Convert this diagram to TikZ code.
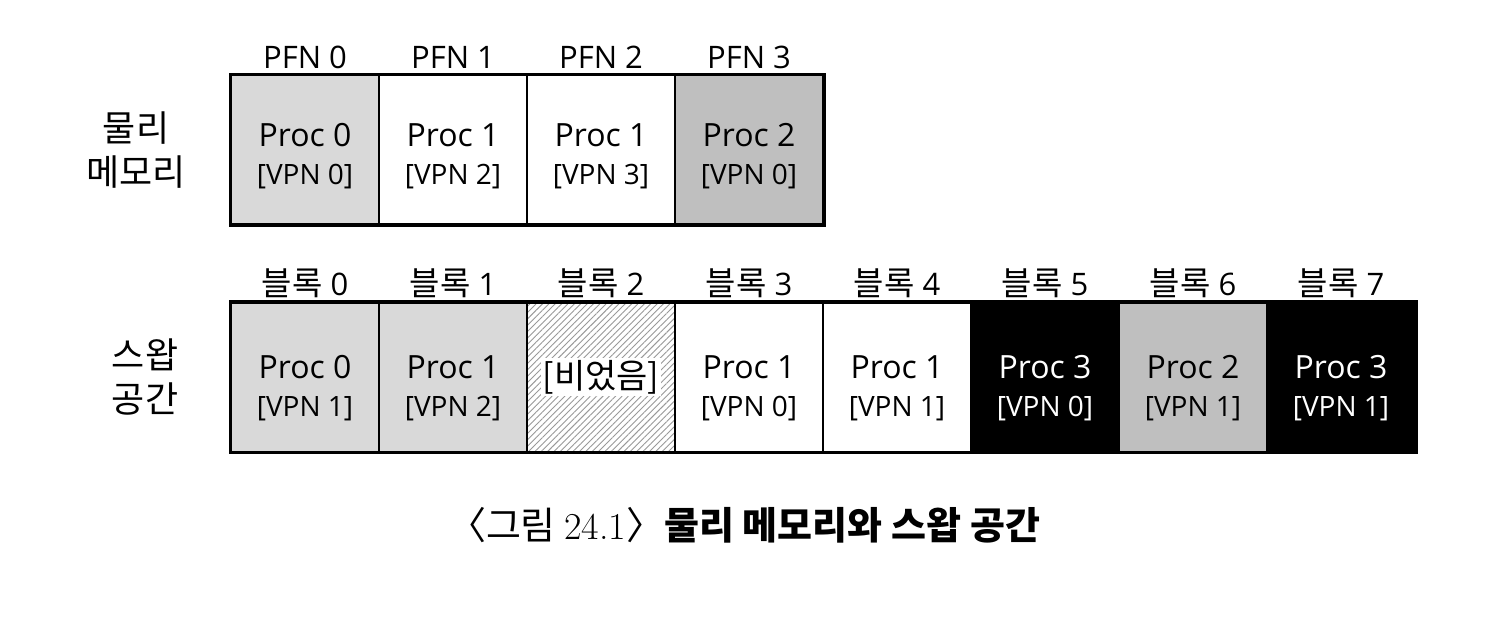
\documentclass[tikz,border=0pt]{standalone}
\usepackage{fontspec}
\setmainfont{Open Sans}
\newfontfamily\cjk{Noto Sans CJK KR}
\newfontfamily\lmr{Latin Modern Roman}
\usetikzlibrary{patterns.meta}
\definecolor{lgray}{HTML}{D9D9D9}
\definecolor{mgray}{HTML}{BFBFBF}
\begin{document}
\begin{tikzpicture}[x=1pt,y=-1pt,
  cell/.style={draw=black, line width=2pt, minimum width=148pt, minimum height=149pt, inner sep=0pt, anchor=center},
  proctxt/.style={font=\fontsize{32}{36}\selectfont, anchor=base, inner sep=0pt},
  vpntxt/.style={font=\fontsize{28}{32}\selectfont, anchor=base, inner sep=0pt},
  toplbl/.style={font=\fontsize{31}{36}\selectfont, anchor=base, inner sep=0pt},
  sidelbl/.style={font=\cjk\fontsize{36}{44}\selectfont, align=center, anchor=center},
  hatch/.style={pattern={Lines[angle=45,distance=4.5pt,line width=0.9pt]}, pattern color=black!40}]
\useasboundingbox (0,0) rectangle (1512,630);
% physical memory
\foreach \i/\f/\p/\v in {0/lgray/0/0,1/white/1/2,2/white/1/3,3/mgray/2/0}{
  \node[cell, fill=\f] (m\i) at ({305+148*\i},149.5) {};
  \node[proctxt] (mp\i) at ({305+148*\i},146) {Proc \p};
  \node[vpntxt] (mv\i) at ({305+148*\i},184) {[VPN \v]};
  \node[toplbl] (pl\i) at ({305+148*\i},68) {PFN \i};
}
\draw[line width=3pt] (m0.north west) rectangle (m3.south east);
\node[sidelbl] (pm) at (136,150) {물리\\메모리};
% swap space
\foreach \i/\f/\t/\p/\v in {0/lgray/black/0/1,1/lgray/black/1/2,3/white/black/1/0,4/white/black/1/1,5/black/white/3/0,6/mgray/black/2/1,7/black/white/3/1}{
  \node[cell, fill=\f] (s\i) at ({305+148*\i},377) {};
  \node[proctxt, text=\t] (sp\i) at ({305+148*\i},378) {Proc \p};
  \node[vpntxt, text=\t] (sv\i) at ({305+148*\i},416) {[VPN \v]};
}
\node[cell, fill=white] (s2bg) at (601,377) {};
\node[cell, hatch] (s2) at (601,377) {};
\node[fill=white, inner sep=2pt, font=\cjk\fontsize{34}{38}\selectfont] (s2t) at (s2.center) {[비었음]};
\foreach \i in {0,...,7}{
  \node[toplbl] (bl\i) at ({305+148*\i},295) {{\cjk\fontsize{33}{36}\selectfont 블록} \i};
}
\draw[line width=3pt] (s0.north west) rectangle (s7.south east);
\node[sidelbl] (sw) at (145,377) {스왑\\공간};
% caption
\node[anchor=base, font=\cjk\fontsize{38}{42}\selectfont, inner sep=0pt] (cap) at (744,539) {〈그림 {\lmr 24.1}〉\textbf{물리 메모리와 스왑 공간}};
\end{tikzpicture}
\end{document}
